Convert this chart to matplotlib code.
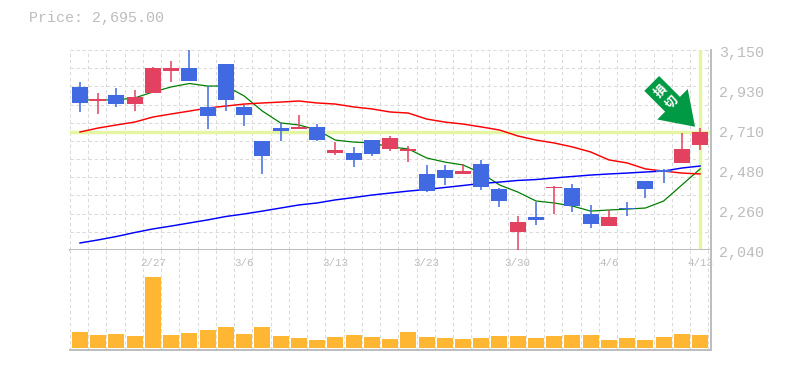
from matplotlib import pyplot as plt
import numpy as np

#Price: 2,695.00 daily candles
dates = ["2/27", "3/6", "3/13", "3/23", "3/30", "4/6", "4/13"]
date_idx = [4, 9, 14, 19, 24, 29, 34]

opens = [2945, 2867, 2900, 2850, 2911, 3033, 3050, 2834, 3072, 2834, 2645, 2717, 2712, 2723, 2578, 2578, 2650, 2601,
         2589, 2462, 2484, 2462, 2517, 2379, 2140, 2223, 2384, 2384, 2240, 2173, 2273, 2423, 2484, 2523, 2623]
highs = [2972, 2911, 2939, 2928, 3056, 3089, 3150, 2950, 3072, 2845, 2645, 2745, 2789, 2739, 2639, 2612, 2650, 2673,
         2617, 2512, 2512, 2517, 2540, 2384, 2229, 2306, 2395, 2406, 2290, 2262, 2306, 2423, 2490, 2689, 2717]
lows = [2806, 2795, 2834, 2811, 2911, 2972, 2978, 2712, 2811, 2728, 2462, 2645, 2712, 2645, 2567, 2501, 2562, 2589,
        2528, 2362, 2401, 2462, 2373, 2279, 2040, 2179, 2240, 2251, 2162, 2173, 2229, 2329, 2412, 2523, 2595]
closes = [2856, 2878, 2850, 2889, 3050, 3050, 2978, 2784, 2873, 2789, 2562, 2700, 2723, 2650, 2595, 2540, 2573, 2662,
          2601, 2367, 2440, 2478, 2390, 2312, 2195, 2207, 2390, 2284, 2184, 2223, 2267, 2379, 2473, 2601, 2695]

ma_green = [2873, 2873, 2873, 2884, 2917, 2945, 2964, 2950, 2950, 2895, 2811, 2745, 2734, 2706, 2650, 2639, 2634, 2612,
            2601, 2551, 2528, 2512, 2467, 2401, 2362, 2312, 2301, 2284, 2256, 2262, 2267, 2273, 2312, 2401, 2490]
ma_red = [2695, 2717, 2734, 2750, 2778, 2795, 2811, 2828, 2839, 2850, 2856, 2861, 2867, 2856, 2850, 2834, 2823, 2806,
          2800, 2767, 2750, 2739, 2723, 2706, 2673, 2650, 2634, 2612, 2584, 2540, 2523, 2490, 2478, 2467, 2462]
ma_blue = [2079, 2096, 2115, 2137, 2157, 2173, 2190, 2207, 2226, 2240, 2256, 2273, 2290, 2301, 2318, 2331, 2345, 2356,
           2367, 2376, 2387, 2398, 2409, 2417, 2426, 2431, 2440, 2448, 2456, 2462, 2467, 2473, 2478, 2495, 2506]

volumes = [16, 13, 14, 12, 71, 13, 15, 18, 21, 14, 21, 12, 10, 8, 11, 13, 11, 9,
           16, 11, 10, 9, 10, 12, 12, 10, 12, 13, 13, 8, 10, 8, 11, 14, 13]

y_ticks = [3150, 2928, 2706, 2484, 2262, 2040]
y_labels = ["3,150", "2,930", "2,710", "2,480", "2,260", "2,040"]

mono = "Liberation Mono"
gray = "#bdbdbd"
c_grid = "#dadada"
c_up = "#e2425f"
c_down = "#4169e1"
c_mark = "#e4f6a4"
c_arrow = "#009944"
dash = (0, (3.2, 2.6))

x = np.arange(len(closes))
xlim = (-0.548, 34.58)
grid_x = np.arange(0, 36) - 0.548

fig = plt.figure(figsize=(7.85, 3.70), dpi=100)
ax = fig.add_axes([70/785, 120/370, 640.7/785, 200/370])
ax2 = fig.add_axes([70/785, 20/370, 640.7/785, 100/370])

'''Price panel'''
ax.set_xlim(xlim)
ax.set_ylim(2040, 3150)
for g in grid_x:
    ax.axvline(g, color=c_grid, lw=0.75, ls=dash, zorder=1)
for g in np.linspace(2040, 3150, 12):
    ax.axhline(g, color=c_grid, lw=0.75, ls=dash, zorder=1, clip_on=False)

ax.axhline(closes[-1], color=c_mark, lw=2.5, zorder=2)
ax.plot([x[-1], x[-1]], [2045, 3150], color=c_mark, lw=2.5, zorder=2, solid_capstyle="butt")

ax.plot(x, ma_green, color="#008000", lw=0.9, zorder=3)
ax.plot(x, ma_red, color="#ff0000", lw=1.05, zorder=3)
ax.plot(x, ma_blue, color="#0000ff", lw=1.05, zorder=3)

for i in x:
    col = c_up if closes[i] >= opens[i] else c_down
    ax.plot([i, i], [lows[i], highs[i]], color=col, lw=1.1, zorder=4, solid_capstyle="butt", clip_on=False)
    ax.bar(i, abs(closes[i] - opens[i]), bottom=min(opens[i], closes[i]), width=0.877, color=col, zorder=5)

#Arrow pointing at the last candle
ax.annotate("", xy=(33.72, 2724), xytext=(-43.3*0.72, 43.3*0.72), textcoords="offset points",
            arrowprops=dict(arrowstyle="simple,head_length=2.29,head_width=3.1,tail_width=1.51",
                            mutation_scale=10, color=c_arrow, lw=0, shrinkA=0, shrinkB=0), zorder=6)
ax.text(31.85, 2922, "損", color="white", fontsize=9, fontweight="bold", family="Noto Sans CJK JP",
        rotation=45, rotation_mode="anchor", ha="center", va="center", zorder=7)
ax.text(32.46, 2861, "切", color="white", fontsize=9, fontweight="bold", family="Noto Sans CJK JP",
        rotation=45, rotation_mode="anchor", ha="center", va="center", zorder=7)

for s in ["top", "left"]:
    ax.spines[s].set_visible(False)
ax.spines["bottom"].set_color(gray)
ax.spines["right"].set_color(gray)
ax.spines["bottom"].set_linewidth(1.4)
ax.spines["right"].set_linewidth(1.4)
ax.set_xticks([])
ax.set_yticks([])
for t, lab in zip(y_ticks, y_labels):
    ax.annotate(lab, (1, t), xycoords=ax.get_yaxis_transform(), xytext=(6.2, -2.2), textcoords="offset points",
                color=gray, fontsize=10.8, family=mono, ha="left", va="center", annotation_clip=False)

'''Volume panel'''
ax2.set_xlim(xlim)
ax2.set_ylim(-2, 98)
for g in grid_x:
    ax2.axvline(g, color=c_grid, lw=0.75, ls=dash, zorder=1)
ax2.bar(x, volumes, width=0.877, color="#ffb733", zorder=3)
for i, d in zip(date_idx, dates):
    ax2.text(i, 84.5, d, color=gray, fontsize=7.8, family=mono, ha="center", va="center", zorder=2, clip_on=False)
for s in ["top", "left"]:
    ax2.spines[s].set_visible(False)
ax2.spines["bottom"].set_color(gray)
ax2.spines["right"].set_color(gray)
ax2.spines["bottom"].set_linewidth(1.4)
ax2.spines["right"].set_linewidth(1.4)
ax2.set_xticks([])
ax2.set_yticks([])

fig.text(29/785, 1 - 18/370, "Price: 2,695.00", color=gray, fontsize=10.8, family=mono, ha="left", va="center")

fig.savefig("out.png", dpi=100)
